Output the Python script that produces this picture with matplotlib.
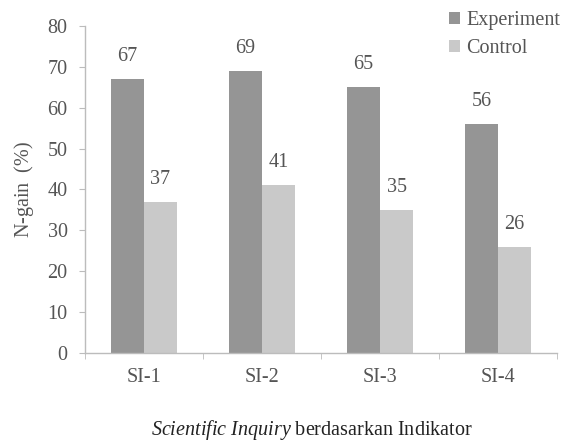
import matplotlib

matplotlib.use("Agg")
import matplotlib.pyplot as plt
import numpy as np

plt.rcParams.update(
    {
        "font.family": "serif",
        "font.serif": ["Liberation Serif", "DejaVu Serif"],
        "mathtext.fontset": "custom",
        "mathtext.rm": "Liberation Serif",
        "mathtext.it": "Liberation Serif:italic",
    }
)

categories = ["SI-1", "SI-2", "SI-3", "SI-4"]
experiment = [67, 69, 65, 56]
control = [37, 41, 35, 26]
series_names = ["Experiment", "Control"]

DARK = "#959595"
LIGHT = "#c9c9c9"
TEXT = "#555555"
AXIS = "#bcbcbc"
FS = 14.5

fig = plt.figure(figsize=(5.66, 4.44), dpi=100, facecolor="white")
ax = fig.add_axes([85 / 566, 1 - 353 / 444, (557 - 85) / 566, (353 - 26) / 444])

x = np.arange(len(categories))
width = 0.28
b1 = ax.bar(x - width / 2, experiment, width, color=DARK, label=series_names[0])
b2 = ax.bar(x + width / 2, control, width, color=LIGHT, label=series_names[1])

for bars, vals in ((b1, experiment), (b2, control)):
    for rect, v in zip(bars, vals):
        ax.annotate(
            f"{v}",
            (rect.get_x() + rect.get_width() / 2, v),
            xytext=(0, 9.5),
            textcoords="offset points",
            ha="center",
            va="bottom",
            fontsize=FS,
            color=TEXT,
        )

ax.set_xlim(-0.5, len(categories) - 0.5)
ax.set_ylim(0, 80)
ax.set_yticks(range(0, 81, 10))
ax.set_xticks(x)
ax.set_xticklabels(categories)
ax.set_xticks(np.arange(-0.5, len(categories), 1.0), minor=True)

for side in ("top", "right"):
    ax.spines[side].set_visible(False)
for side in ("left", "bottom"):
    ax.spines[side].set_color(AXIS)
    ax.spines[side].set_linewidth(1.0)

ax.tick_params(axis="y", labelsize=FS, labelcolor=TEXT, color=AXIS, length=4.5, pad=8)
ax.tick_params(axis="x", which="major", labelsize=FS, labelcolor=TEXT, length=0, pad=11)
ax.tick_params(axis="x", which="minor", color=AXIS, length=4.5)

ax.set_ylabel(r"N-gain  $\mathit{(\%)}$", fontsize=FS, color=TEXT, labelpad=8)

fig.text(
    312 / 566,
    1 - 430 / 444,
    r"$\mathit{Scientific\ Inquiry}$ berdasarkan Indikator",
    ha="center",
    va="center",
    fontsize=FS,
    color="#222222",
)

leg = fig.legend(
    loc="upper left",
    bbox_to_anchor=(441 / 566, 1 - 3 / 444),
    frameon=False,
    fontsize=FS,
    handlelength=0.55,
    handleheight=0.55,
    handletextpad=0.3,
    labelspacing=0.45,
    borderaxespad=0,
)
for t in leg.get_texts():
    t.set_color(TEXT)

fig.savefig("out.png", dpi=100, facecolor="white")
plt.close(fig)
